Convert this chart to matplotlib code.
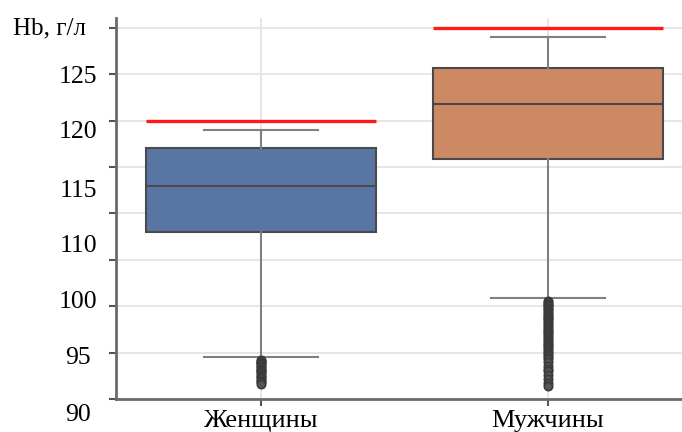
import matplotlib
matplotlib.use("Agg")
import matplotlib.pyplot as plt

# Haemoglobin distribution by sex (g/L)
groups = ["Женщины", "Мужчины"]
q1 = [108.0, 115.9]
median = [113.0, 121.8]
q3 = [117.0, 125.7]
whisker_low = [94.5, 100.9]
whisker_high = [119.0, 129.0]
outliers_women = [94.2, 94.1, 94.0, 93.9, 93.8, 93.6, 93.5, 93.3, 93.2, 93.0,
                  92.9, 92.7, 92.5, 92.4, 92.2, 92.0, 91.9, 91.7]
outliers_men = [100.6, 100.5, 100.3, 100.2, 100.0, 99.8, 99.7, 99.5, 99.3, 99.1,
                99.0, 98.8, 98.6, 98.4, 98.2, 98.0, 97.8, 97.6, 97.4, 97.2,
                97.0, 96.8, 96.6, 96.4, 96.2, 96.0, 95.8, 95.6, 95.4, 95.2,
                95.0, 94.8, 94.5, 94.3, 94.0, 93.6, 93.3, 93.0, 92.6, 92.2,
                91.8, 91.4]
norm_level = [120, 130]          # lower reference limit per group
y_ticks = [90, 95, 100, 105, 110, 115, 120, 125, 130]
y_labels = ["Hb, г/л", "125", "120", "115", "110", "100", "95", "90"]

box_colors = ["#5975a4", "#cc8963"]
line_gray = "#4a4a4a"
whisk_gray = "#808080"
serif = ["Liberation Serif", "DejaVu Serif"]

W, H = 682, 432
fig = plt.figure(figsize=(W / 100, H / 100), dpi=100)
fig.patch.set_facecolor("white")

left_px, right_px, top_px, bottom_px = 116, 691.5, 18.3, 399.3
ax = fig.add_axes([left_px / W, 1 - bottom_px / H,
                   (right_px - left_px) / W, (bottom_px - top_px) / H])

stats = []
for i, name in enumerate(groups):
    stats.append(dict(label=name, med=median[i], q1=q1[i], q3=q3[i],
                      whislo=whisker_low[i], whishi=whisker_high[i],
                      fliers=[outliers_women, outliers_men][i]))

bp = ax.bxp(stats, positions=range(len(groups)), widths=0.8,
            patch_artist=True, showfliers=True,
            boxprops=dict(edgecolor=line_gray, linewidth=1.5),
            medianprops=dict(color=line_gray, linewidth=1.5),
            whiskerprops=dict(color=whisk_gray, linewidth=1.5),
            capprops=dict(color=whisk_gray, linewidth=1.5),
            flierprops=dict(marker="o", markersize=6, markerfacecolor="#555555",
                            markeredgecolor="#3a3a3a", markeredgewidth=1.2),
            capwidths=0.4, zorder=3)
for patch, c in zip(bp["boxes"], box_colors):
    patch.set_facecolor(c)

# Reference limits
for i, lvl in enumerate(norm_level):
    ax.hlines(lvl, i - 0.4, i + 0.4, colors="#ff1a1a", linewidth=2.4, zorder=4)

ax.set_xlim(-0.505, 1.5)
ax.set_ylim(90, 131)
ax.set_yticks(y_ticks)
ax.set_yticklabels([])
ax.set_xticks(range(len(groups)))
ax.set_xticklabels(groups, fontsize=19, family=serif)

ax.grid(True, color="#e6e6e6", linewidth=1.4, zorder=0)
ax.set_axisbelow(True)
for side in ["top", "right"]:
    ax.spines[side].set_visible(False)
for side in ["left", "bottom"]:
    ax.spines[side].set_color("#6a6a6a")
    ax.spines[side].set_linewidth(2)
ax.tick_params(axis="both", length=5, width=1.5, color="#555555", pad=1.5)
ax.tick_params(axis="x", pad=2.5)

# Axis annotations along the left side
label_base_px = [34.3, 83.3, 137.7, 196.7, 252.3, 308.3, 364.0, 420.7]
for txt, yb in zip(y_labels, label_base_px):
    if txt.startswith("Hb"):
        fig.text(12.7 / W, 1 - yb / H, txt, ha="left", va="baseline",
                 fontsize=18, family=serif)
    else:
        fig.text(78 / W, 1 - yb / H, txt, ha="center", va="baseline",
                 fontsize=18.5, family=serif)

fig.savefig("out.png", dpi=100)
